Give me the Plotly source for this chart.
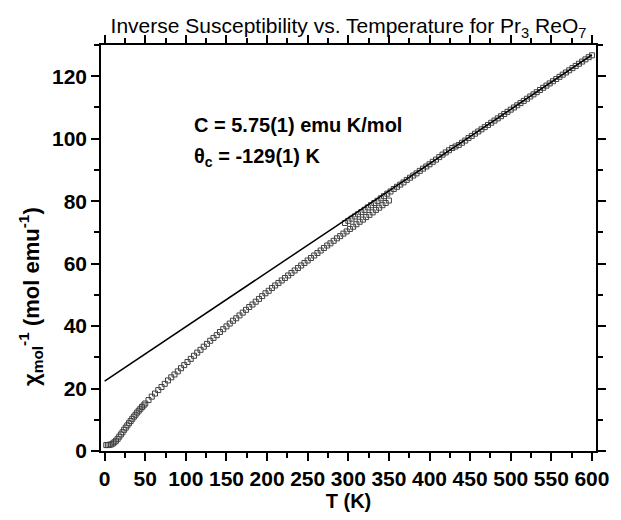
import plotly.graph_objects as go

# Low-temperature measurement (K, mol/emu)
low_T = [2, 4, 6, 8, 10, 12, 14, 16, 18, 20, 22, 24, 26, 28, 30, 32, 34, 36, 38, 40,
         42, 44, 46, 48, 50, 54, 58, 62, 66, 70, 74, 78, 82, 86, 90, 94, 98, 102, 106,
         110, 114, 118, 122, 126, 130, 134, 138, 142, 146, 150, 154, 158, 162, 166,
         170, 174, 178, 182, 186, 190, 194, 198, 202, 206, 210, 214, 218, 222, 226,
         230, 234, 238, 242, 246, 250, 254, 258, 262, 266, 270, 274, 278, 282, 286,
         290, 294, 298, 302, 306, 310, 314, 318, 322, 326, 330, 334, 338, 342, 346,
         350]
low_chi = [1.9, 1.9, 2.0, 2.1, 2.4, 2.8, 3.3, 3.9, 4.6, 5.3, 6.0, 6.8, 7.5, 8.2, 8.9,
           9.6, 10.3, 11.0, 11.6, 12.3, 12.9, 13.5, 14.1, 14.6, 15.2, 16.3, 17.4,
           18.4, 19.5, 20.5, 21.5, 22.6, 23.6, 24.5, 25.5, 26.5, 27.5, 28.5, 29.5,
           30.5, 31.5, 32.4, 33.4, 34.3, 35.3, 36.2, 37.1, 38.1, 39.0, 39.9, 40.8,
           41.7, 42.5, 43.4, 44.3, 45.2, 46.1, 46.9, 47.8, 48.7, 49.6, 50.5, 51.3,
           52.2, 53.0, 53.8, 54.6, 55.4, 56.2, 57.0, 57.8, 58.6, 59.4, 60.2, 61.0,
           61.8, 62.6, 63.4, 64.2, 65.0, 65.8, 66.5, 67.3, 68.1, 68.8, 69.6, 70.3,
           71.1, 71.8, 72.6, 73.4, 74.1, 74.9, 75.6, 76.4, 77.2, 77.9, 78.7, 79.4,
           80.2]

# High-temperature measurement
high_T = [296, 300, 304, 308, 312, 316, 320, 324, 328, 332, 336, 340, 344, 348, 352,
          356, 360, 364, 368, 372, 376, 380, 384, 388, 392, 396, 400, 404, 408, 412,
          416, 420, 424, 428, 432, 436, 440, 444, 448, 452, 456, 460, 464, 468, 472,
          476, 480, 484, 488, 492, 496, 500, 504, 508, 512, 516, 520, 524, 528, 532,
          536, 540, 544, 548, 552, 556, 560, 564, 568, 572, 576, 580, 584, 588, 592,
          596, 600]
high_chi = [73.0, 73.7, 74.4, 75.1, 75.8, 76.5, 77.2, 78.0, 78.7, 79.4, 80.1, 80.9,
            81.6, 82.4, 83.1, 83.9, 84.6, 85.3, 86.0, 86.8, 87.5, 88.2, 88.9, 89.7,
            90.4, 91.1, 91.8, 92.6, 93.3, 94.1, 94.9, 95.6, 96.3, 97.0, 97.5, 98.0,
            98.7, 99.4, 100.2, 100.9, 101.6, 102.3, 103.0, 103.7, 104.4, 105.1, 105.8,
            106.5, 107.2, 107.9, 108.6, 109.3, 110.0, 110.7, 111.4, 112.1, 112.8,
            113.5, 114.2, 114.9, 115.6, 116.3, 117.0, 117.7, 118.4, 119.1, 119.8,
            120.5, 121.2, 121.9, 122.6, 123.3, 124.0, 124.7, 125.4, 126.1, 126.7]

# Curie-Weiss fit line endpoints
fit_T = [0, 600]
fit_chi = [22.4, 126.8]

FONT = "Liberation Sans, Arial, Helvetica, sans-serif"
MARK = "#404040"

fig = go.Figure()
for xs, ys in ((low_T, low_chi), (high_T, high_chi)):
    fig.add_trace(go.Scatter(x=xs, y=ys, mode="markers",
                             marker=dict(symbol="square-open", size=5, color=MARK,
                                         line=dict(width=1, color=MARK)),
                             showlegend=False))
fig.add_trace(go.Scatter(x=fit_T, y=fit_chi, mode="lines",
                         line=dict(color="black", width=1.5), showlegend=False))

axis_common = dict(
    showline=True, linecolor="black", linewidth=1.5, mirror="ticks",
    ticks="outside", ticklen=8, tickwidth=1.5, tickcolor="black",
    showgrid=False, zeroline=False,
    tickfont=dict(family=FONT, size=21, color="black", weight="bold"),
)

fig.update_layout(
    width=621, height=520,
    margin=dict(l=101, r=16, t=45, b=68),
    paper_bgcolor="white", plot_bgcolor="white",
    title=dict(text="Inverse Susceptibility vs. Temperature for Pr<sub>3</sub> ReO<sub>7</sub>",
               x=0.5, xref="paper", xanchor="center", y=0.95, yref="container",
               yanchor="middle",
               font=dict(family=FONT, size=21, color="black")),
    xaxis=dict(range=[-4.5, 605], dtick=50, tick0=0,
               minor=dict(dtick=25, ticklen=5, tickwidth=1.5, tickcolor="black", ticks="outside"),
               title=dict(text="T (K)", standoff=4,
                          font=dict(family=FONT, size=20, color="black", weight="bold")),
               **axis_common),
    yaxis=dict(range=[0, 130], dtick=20, tick0=0,
               minor=dict(dtick=10, ticklen=5, tickwidth=1.5, tickcolor="black", ticks="outside"),
               **axis_common),
    annotations=[
        dict(text="χ<sub>mol</sub><sup>-1</sup> (mol emu<sup>-1</sup>)", textangle=-90,
             x=-0.141, xref="paper", y=0.38, yref="paper",
             xanchor="center", yanchor="middle", showarrow=False,
             font=dict(family=FONT, size=22, color="black", weight="bold")),
        dict(text="C = 5.75(1) emu K/mol", x=0.1845, xref="paper", y=0.802, yref="paper",
             xanchor="left", yanchor="middle", showarrow=False,
             font=dict(family=FONT, size=20, color="black", weight="bold")),
        dict(text="θ<sub>c</sub> = -129(1) K", x=0.1845, xref="paper", y=0.722, yref="paper",
             xanchor="left", yanchor="middle", showarrow=False,
             font=dict(family=FONT, size=20, color="black", weight="bold")),
    ],
)

fig.write_html("out.html")
